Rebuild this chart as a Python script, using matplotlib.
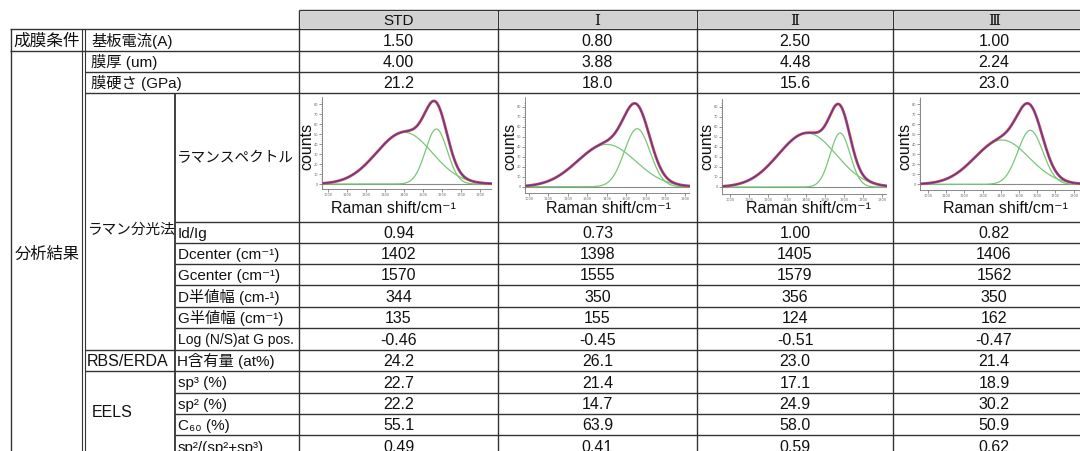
import numpy as np
import matplotlib
matplotlib.use("Agg")
import matplotlib.pyplot as plt

# ---------------- data ----------------
samples = ["STD", "Ⅰ", "Ⅱ", "Ⅲ"]
substrate_current = ["1.50", "0.80", "2.50", "1.00"]
film_thickness = ["4.00", "3.88", "4.48", "2.24"]
hardness = ["21.2", "18.0", "15.6", "23.0"]
id_ig = ["0.94", "0.73", "1.00", "0.82"]
d_center = ["1402", "1398", "1405", "1406"]
g_center = ["1570", "1555", "1579", "1562"]
d_fwhm = ["344", "350", "356", "350"]
g_fwhm = ["135", "155", "124", "162"]
log_ns = ["-0.46", "-0.45", "-0.51", "-0.47"]
h_content = ["24.2", "26.1", "23.0", "21.4"]
sp3 = ["22.7", "21.4", "17.1", "18.9"]
sp2 = ["22.2", "14.7", "24.9", "30.2"]
c60 = ["55.1", "63.9", "58.0", "50.9"]
sp2_ratio = ["0.49", "0.41", "0.59", "0.62"]
g_band_height = [55, 58, 54, 54]          # G band height (arb. counts)
spectrum_xrange = [(970, 1862), (980, 1826), (956, 1826), (956, 1890)]
spectrum_yrange = [(-5, 87), (-6.3, 89.7), (-7, 88), (-5.7, 87.3)]

raman_labels = ["Id/Ig", "Dcenter (cm⁻¹)", "Gcenter (cm⁻¹)", "D半値幅 (cm-¹)",
                "G半値幅 (cm⁻¹)", "Log (N/S)at G pos."]
eels_labels = ["sp³ (%)", "sp² (%)", "C₆₀ (%)", "sp²/(sp²+sp³)"]

# ---------------- layout ----------------
W, H = 1080, 451
FAM = ["Liberation Sans", "DejaVu Sans", "Noto Sans CJK JP"]
LC = "#333333"
LW = 1.0

fig = plt.figure(figsize=(W / 100, H / 100), dpi=100)
tab = fig.add_axes([0, 0, 1, 1])
tab.set_xlim(0, W)
tab.set_ylim(H, 0)
tab.axis("off")

col_x = [299, 498, 697, 893, 1095]
col_c = [(col_x[i] + col_x[i + 1]) / 2 for i in range(4)]
row_y = [29, 51, 72, 93, 222, 243, 264, 285, 307, 328, 350, 371, 392.5, 413.5, 435, 457]
XR = 1100


def hline(y, x0, x1, lw=LW):
    tab.plot([x0, x1], [y, y], color=LC, lw=lw, solid_capstyle="butt")


def vline(x, y0, y1, lw=LW):
    tab.plot([x, x], [y0, y1], color=LC, lw=lw, solid_capstyle="butt")


def txt(x, ymid, s, ha="left", size=11.5, family=FAM, **kw):
    tab.text(x, ymid + 0.37 * size * 100 / 72, s, ha=ha, va="baseline",
             fontsize=size, family=family, color="#111111", **kw)


def mid(i):
    return (row_y[i] + row_y[i + 1]) / 2


# header
for i in range(4):
    tab.add_patch(plt.Rectangle((col_x[i] + 1.5, 11.5), col_x[i + 1] - col_x[i] - 3, 16,
                                facecolor="#d2d2d2", edgecolor="none"))
hline(10, col_x[0], XR)
for i, s in enumerate(samples):
    fam = FAM if s == "STD" else ["DejaVu Serif", "Noto Sans CJK JP"]
    txt(col_c[i], 19.5, s, ha="center", size=11, family=fam)

# grid
hline(29, 10, XR)
hline(51, 10, XR)
for y in (72, 93, 350, 371):
    hline(y, 85, XR)
for y in (222, 243, 264, 285, 307, 328, 392.5, 413.5, 435):
    hline(y, 175, XR)
vline(11, 29, H)
vline(82, 29, H, lw=0.8)
vline(85, 29, H, lw=0.8)
vline(175, 93, H, lw=1.3)
for x in col_x[:4]:
    vline(x, 10, H)

# left labels
txt(13, mid(0), "成膜条件", size=12)
txt(15, 253, "分析結果", size=11.7)
txt(91, mid(0), "基板電流(A)", size=11)
txt(91, mid(1), "膜厚 (um)", size=11)
txt(91, mid(2), "膜硬さ (GPa)", size=11)
txt(88, 228, "ラマン分光法", size=10.5)
txt(177, 157, "ラマンスペクトル", size=10.5)
for k, lab in enumerate(raman_labels):
    txt(178, mid(4 + k), lab, size=10 if lab.startswith("Log") else 11)
txt(87, mid(10), "RBS/ERDA", size=11.5)
txt(177, mid(10), "H含有量 (at%)", size=11)
txt(92, 411, "EELS", size=11.5)
for k, lab in enumerate(eels_labels):
    txt(178, mid(11 + k), lab, size=11)

# values
value_rows = [substrate_current, film_thickness, hardness, None,
              id_ig, d_center, g_center, d_fwhm, g_fwhm, log_ns,
              h_content, sp3, sp2, c60, sp2_ratio]
for r, vals in enumerate(value_rows):
    if vals is None:
        continue
    for i, v in enumerate(vals):
        txt(col_c[i], mid(r), v, ha="center", size=11.5)

# ---------------- spectra ----------------
axes_box = [(322, 492, 97, 189), (525, 690, 97, 193), (722, 887, 99, 194), (920, 1090, 97, 190)]
label_x = [393, 608, 808, 1005]
for i in range(4):
    l, r, t, b = axes_box[i]
    ax = fig.add_axes([l / W, 1 - b / H, (r - l) / W, (b - t) / H])
    ax.set_facecolor("none")
    xmin, xmax = spectrum_xrange[i]
    x = np.linspace(xmin, xmax, 500)
    hg = g_band_height[i]
    hd = float(id_ig[i]) * hg
    sg = float(g_fwhm[i]) / 2.3548
    sd = float(d_fwhm[i]) / 2.3548
    gband = hg * np.exp(-0.5 * ((x - float(g_center[i])) / sg) ** 2)
    dband = hd * np.exp(-0.5 * ((x - float(d_center[i])) / sd) ** 2)
    total = gband + dband
    ax.plot(x, np.zeros_like(x), color="#8a8a8a", lw=0.8)
    ax.plot(x, dband, color="#78c878", lw=0.9)
    ax.plot(x, gband, color="#78c878", lw=0.9)
    ax.plot(x, total, color="#e8402f", lw=2.0)
    ax.plot(x, total, color="#2a44d2", lw=0.8)
    ax.set_xlim(xmin, xmax)
    ax.set_ylim(*spectrum_yrange[i])
    for s in ("top", "right"):
        ax.spines[s].set_visible(False)
    for s in ("left", "bottom"):
        ax.spines[s].set_color("#777777")
        ax.spines[s].set_linewidth(0.6)
        ax.spines[s].set_linestyle((0, (1, 1)))
    ax.set_xticks(np.arange(1000, 1801, 100))
    ax.set_yticks(np.arange(0, 81, 10))
    ax.set_yticks(np.arange(0, 86, 2), minor=True)
    ax.tick_params(axis="both", which="major", length=2, width=0.5, color="#666666",
                   labelsize=2.5, labelcolor="#666666", pad=1)
    ax.tick_params(axis="both", which="minor", length=1, width=0.4, color="#888888")
    ax.tick_params(axis="x", which="minor", bottom=False)
    tab.text(l - 15, 146, "counts", rotation=90, ha="center", va="center",
             fontsize=11.5, family=FAM, color="#111111")
    tab.text(label_x[i], 213, "Raman shift/cm⁻¹", ha="center", va="baseline",
             fontsize=11.5, family=FAM, color="#111111")

fig.savefig("out.png", dpi=100)
